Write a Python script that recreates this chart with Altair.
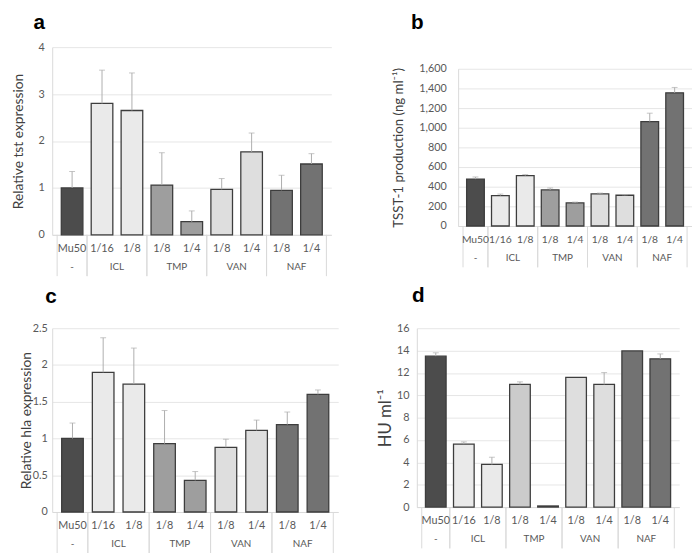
import altair as alt
import pandas as pd

FONT = "Lato"

categories = ["Mu50", "1/16", "1/8", "1/8", "1/4", "1/8", "1/4", "1/8", "1/4"]
groups = ["-", "ICL", "ICL", "TMP", "TMP", "VAN", "VAN", "NAF", "NAF"]

fills_abc = ["#4c4c4c", "#eaeaea", "#eaeaea", "#9e9e9e", "#9e9e9e",
             "#dedede", "#dedede", "#727272", "#727272"]
fills_d = ["#4c4c4c", "#eaeaea", "#eaeaea", "#cbcbcb", "#9e9e9e",
           "#dedede", "#dedede", "#727272", "#727272"]

# panel a: relative tst expression
tst_mean = [1.00, 2.80, 2.65, 1.06, 0.28, 0.97, 1.77, 0.95, 1.51]
tst_err = [0.35, 0.71, 0.80, 0.69, 0.23, 0.23, 0.40, 0.32, 0.22]

# panel b: TSST-1 production
tsst_mean = [477, 310, 513, 367, 235, 327, 313, 1063, 1355]
tsst_err = [22, 15, 10, 20, 8, 8, 5, 85, 55]

# panel c: relative hla expression
hla_mean = [1.00, 1.90, 1.74, 0.93, 0.43, 0.88, 1.11, 1.19, 1.60]
hla_err = [0.21, 0.47, 0.49, 0.45, 0.12, 0.11, 0.14, 0.17, 0.06]

# panel d: HU ml-1
hu_mean = [13.50, 5.63, 3.81, 10.97, 0.10, 11.60, 10.97, 13.97, 13.26]
hu_err = [0.30, 0.20, 0.65, 0.23, 0.0, 0.0, 1.06, 0.0, 0.44]


def panel(letter, ytitle, mean, err, fills, width, height, ydom, yvals, yfmt,
          l_dx, l_dy, yt_size, yt_pad, lab_pad, bar_size, top_gap=0, cat_size=11):
    df = pd.DataFrame({"idx": list(range(len(categories))), "cat": categories,
                       "grp": groups, "mean": mean, "err": err, "fill": fills})
    base = alt.Chart(df)
    xscale = alt.Scale(domain=[-0.5, len(categories) - 0.5], nice=False, zero=False)
    yscale = alt.Scale(domain=ydom, nice=False, range=[height, top_gap])
    xaxis = alt.Axis(title=None, labels=False, ticks=False, grid=False,
                     domainColor="#d9d9d9")
    yaxis = alt.Axis(title=ytitle, values=yvals, format=yfmt,
                     grid=True, gridColor="#e6e6e6", ticks=False,
                     domainColor="#d9d9d9", labelColor="#595959",
                     labelFont=FONT, labelFontSize=11,
                     labelPadding=lab_pad, labelOverlap=False,
                     titleFont=FONT,
                     titleFontSize=yt_size, titleFontWeight="normal",
                     titleColor="#404040", titlePadding=yt_pad)

    def X(field):
        return alt.X(field, scale=xscale, axis=xaxis)

    def Y(field):
        return alt.Y(field, scale=yscale, axis=yaxis, stack=None)

    bars = base.mark_bar(orient="vertical", size=bar_size, stroke="#3d3d3d",
                         strokeWidth=1.3).encode(
        x=X("idx:Q"), y=Y("mean:Q"),
        fill=alt.Fill("fill:N", scale=None),
    )

    errb = base.transform_filter("datum.err > 0").transform_calculate(
        top="datum.mean + datum.err")
    stem = errb.mark_rule(color="#adadad", strokeWidth=1).encode(
        x=X("idx:Q"), y=Y("mean:Q"), y2="top:Q")
    cap = errb.mark_tick(orient="horizontal", size=6, thickness=1,
                         color="#adadad").encode(
        x=X("idx:Q"), y=Y("top:Q"))

    cat_text = base.mark_text(font=FONT, fontSize=cat_size, color="#595959").encode(
        x=X("idx:Q"), y=alt.value(height + 14), text="cat:N")

    grp_text = base.transform_aggregate(
        c="mean(idx)", groupby=["grp"]).mark_text(
        font=FONT, fontSize=10, color="#595959").encode(
        x=X("c:Q"), y=alt.value(height + 33), text="grp:N")

    seps = base.transform_aggregate(
        lo="min(idx)", hi="max(idx)", groupby=["grp"]).transform_calculate(
        b1="datum.lo - 0.5", b2="datum.hi + 0.5").transform_fold(
        ["b1", "b2"]).mark_rule(color="#d9d9d9", strokeWidth=1).encode(
        x=X("value:Q"), y=alt.value(height), y2=alt.value(height + 42))

    label = alt.Chart(alt.Data(values=[{"t": letter}])).mark_text(
        font="Liberation Sans", fontSize=21, fontWeight="bold", color="#000000",
        align="left", baseline="alphabetic").encode(
        x=alt.value(l_dx), y=alt.value(l_dy), text="t:N")

    return alt.layer(bars, stem, cap, seps, cat_text, grp_text, label).properties(
        width=width, height=height)


pa = panel("a", "Relative tst expression", tst_mean, tst_err, fills_abc,
           284, 191, [0, 4], [0, 1, 2, 3, 4], "d", -19, -18, 14, 13, 8, 22)
pb = panel("b", "TSST-1 production (ng ml⁻¹)", tsst_mean, tsst_err, fills_abc,
           238, 182, [0, 1600], list(range(0, 1601, 200)), ",.0f", -48, -18,
           13.5, 14, 12, 18, top_gap=22, cat_size=10.5)
pc = panel("c", "Relative hla expression", hla_mean, hla_err, fills_abc,
           291, 187, [0, 2.5], [0, 0.5, 1, 1.5, 2, 2.5], ".1~f", -7, -26, 14, -1, 5, 22)
pd_ = panel("d", "HU ml⁻¹", hu_mean, hu_err, fills_d,
            267, 182, [0, 16], list(range(0, 17, 2)), "d", -5, -27, 17, 2, 8, 21)

chart = alt.vconcat(
    alt.hconcat(pa, pb, spacing=60),
    alt.hconcat(pc, pd_, spacing=39),
    spacing=8,
).properties(padding={"left": 3, "top": 0, "right": 0, "bottom": 0},
             background="white").configure_view(stroke=None)

chart.save("out.html", embed_options={"renderer": "svg", "actions": False})
